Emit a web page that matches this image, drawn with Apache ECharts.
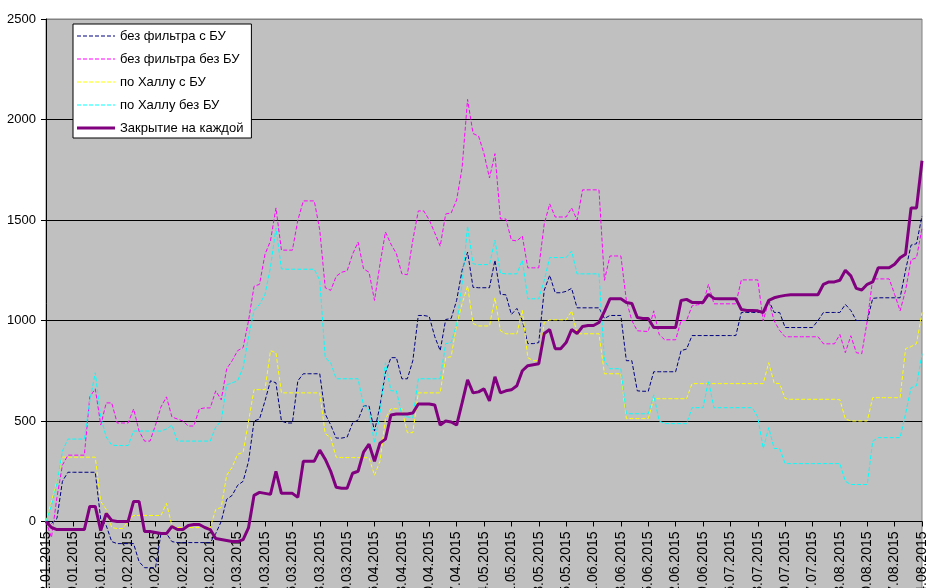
<!DOCTYPE html>
<html><head><meta charset="utf-8">
<script src="https://cdn.jsdelivr.net/npm/echarts@6/dist/echarts.min.js"></script>
<style>html,body{margin:0;padding:0;background:#fff;}#c{width:934px;height:588px;}</style>
</head><body><div id="c"></div>
<script>
// Series names
const seriesNames = ['без фильтра с БУ','без фильтра без БУ','по Халлу с БУ','по Халлу без БУ','Закрытие на каждой'];
// Trading days (weekdays) starting 12.01.2015, 161 points
const startDate = [2015, 0, 12];
const dayCount = 161;
const categories = [];
(function(){
  const d = new Date(Date.UTC(startDate[0], startDate[1], startDate[2]));
  while (categories.length < dayCount) {
    const wd = d.getUTCDay();
    if (wd !== 0 && wd !== 6) {
      const dd = String(d.getUTCDate()).padStart(2,'0');
      const mm = String(d.getUTCMonth()+1).padStart(2,'0');
      categories.push(dd + '.' + mm + '.' + d.getUTCFullYear());
    }
    d.setUTCDate(d.getUTCDate()+1);
  }
})();
const yTicks = [-500, 0, 500, 1000, 1500, 2000, 2500];

const noFilterBU = [0,-10,15,200,245,245,245,245,245,245,
10,-20,-100,-110,-110,-110,-110,-200,-230,-230,
-230,-60,-60,-100,-105,-105,-105,-105,-105,-105,
-105,-60,0,110,130,180,200,300,500,510,
600,700,690,500,490,490,700,735,735,735,
735,535,480,415,415,420,490,505,575,575,
450,575,740,815,815,710,710,800,1025,1025,
1020,920,850,1005,1010,1100,1250,1340,1165,1163,
1163,1163,1300,1130,1128,1030,1060,1000,885,885,
890,1150,1225,1138,1138,1145,1160,1063,1063,1063,
1063,1063,1010,1025,1025,1025,800,800,650,648,
648,745,745,745,745,745,850,858,925,925,
925,925,925,925,925,925,925,1040,1040,1040,
1040,1040,1100,1040,1040,965,965,965,965,965,
965,1000,1040,1040,1040,1040,1080,1050,1000,1000,
1000,1110,1113,1113,1113,1113,1113,1250,1375,1382,
1520];

const noFilterNoBU = [0,-80,120,280,330,330,330,330,620,660,
480,590,590,490,490,490,560,450,400,400,
480,570,620,520,510,500,475,475,560,565,
565,650,605,760,800,850,865,1000,1170,1180,
1330,1396,1560,1350,1350,1350,1500,1595,1595,1595,
1450,1163,1150,1220,1240,1247,1330,1390,1257,1240,
1100,1280,1440,1380,1332,1232,1228,1400,1545,1545,
1500,1436,1370,1530,1535,1600,1760,2100,1930,1918,
1830,1709,1830,1505,1505,1400,1396,1420,1262,1262,
1262,1480,1580,1515,1515,1515,1560,1500,1650,1650,
1650,1650,1200,1321,1321,1321,1100,1000,949,947,
945,1048,930,904,904,904,1000,1000,1073,1078,
1083,1180,1083,1083,1083,1083,1083,1202,1202,1202,
1202,998,1098,998,950,919,919,919,919,919,
919,919,884,884,884,930,840,924,840,835,
998,1207,1207,1207,1207,1130,1048,1150,1302,1312,
1460];

const hullBU = [0,100,200,320,320,320,320,320,320,320,
100,60,-30,-35,-35,0,30,30,30,30,
30,30,90,-20,-30,-30,-30,-30,-30,-30,
-30,60,70,230,270,335,343,500,656,656,
656,850,840,640,640,640,640,640,640,640,
640,437,417,320,318,318,318,318,318,318,
230,300,512,561,561,561,442,442,640,640,
640,640,640,815,820,980,1083,1172,985,973,
973,973,1113,949,934,934,934,1050,815,800,
800,990,1003,1003,1003,1003,1048,934,934,934,
934,934,735,735,735,735,512,512,512,512,
512,611,611,611,611,611,611,611,686,686,
686,686,686,686,686,686,686,686,686,686,
686,686,790,688,686,611,608,608,608,608,
608,608,608,608,608,606,510,500,500,500,
500,616,616,616,616,616,616,860,870,885,
1040];

const hullNoBU = [0,80,190,350,410,410,410,410,600,740,
520,420,380,378,378,378,450,450,450,450,
450,450,460,480,400,400,400,400,400,400,
400,470,500,680,690,700,765,920,1050,1080,
1130,1265,1460,1257,1255,1255,1255,1255,1255,1255,
1200,815,790,710,710,710,710,710,578,555,
390,536,790,650,650,530,520,517,710,710,
710,710,710,885,890,980,1182,1470,1282,1278,
1278,1278,1400,1235,1232,1232,1232,1300,1108,1108,
1108,1200,1313,1313,1313,1313,1346,1232,1232,1232,
1232,1232,800,760,760,760,536,536,536,536,
536,630,500,487,487,487,487,487,566,566,
566,700,566,566,566,566,566,566,566,566,
520,363,467,363,363,288,288,288,288,288,
288,288,288,288,288,288,200,184,184,184,
184,400,417,417,417,417,417,536,666,675,
835];

const closeEach = [0,-30,-40,-40,-40,-40,-40,-40,75,75,
-45,40,5,0,0,0,100,100,-50,-50,
-55,-60,-60,-25,-40,-40,-20,-15,-15,-30,
-40,-85,-90,-95,-100,-100,-90,-30,130,145,
140,135,250,140,140,140,120,300,300,300,
355,310,250,170,165,165,240,250,345,385,
300,390,410,530,535,535,535,540,585,585,
585,580,480,500,495,480,590,705,640,645,
660,600,720,640,650,655,675,750,775,780,
785,935,955,860,860,890,955,935,970,975,
975,990,1045,1108,1108,1108,1090,1085,1015,1010,
1010,965,965,965,965,965,1100,1105,1090,1090,
1090,1130,1110,1108,1108,1108,1108,1055,1050,1050,
1048,1040,1100,1113,1120,1125,1128,1128,1128,1128,
1128,1128,1180,1192,1192,1200,1250,1222,1160,1152,
1180,1192,1262,1262,1262,1280,1312,1330,1560,1560,
1795];

const FONT = 'Arial, "Liberation Sans", sans-serif';
const dashed = [4, 2];

// Plot geometry
const GRID_TOP = 19, GRID_H = 603;
const yMin = yTicks[0], yMax = yTicks[yTicks.length - 1];
// the category axis crosses the value axis at 0
const xAxisOffset = -GRID_H * (0 - yMin) / (yMax - yMin);

// Legend icon paths: a horizontal (dashed or solid) line inside a 38x14 box
function legendLinePath(isDashed, thick) {
  const W = 38, H = 14, y0 = H / 2 - thick / 2, y1 = H / 2 + thick / 2;
  let p = 'path://M0,0L0,0ZM' + W + ',' + H + 'L' + W + ',' + H + 'Z';
  if (isDashed) {
    for (let x = 0; x < W; x += 6) {
      const x2 = Math.min(x + 4, W);
      p += 'M' + x + ',' + y0 + 'L' + x2 + ',' + y0 + 'L' + x2 + ',' + y1 + 'L' + x + ',' + y1 + 'Z';
    }
  } else {
    p += 'M0,' + y0 + 'L' + W + ',' + y0 + 'L' + W + ',' + y1 + 'L0,' + y1 + 'Z';
  }
  return p;
}

function dashSeries(name, data, color) {
  return { name, type: 'line', data, symbol: 'none', showSymbol: false, smooth: false,
    lineStyle: { color, width: 1, type: dashed }, itemStyle: { color }, z: 3 };
}
const chart = echarts.init(document.getElementById('c'), null, { renderer: 'canvas' });
chart.setOption({
  animation: false,
  backgroundColor: '#ffffff',
  textStyle: { fontFamily: FONT },
  grid: { left: 46, right: 12, top: GRID_TOP, height: GRID_H, outerBoundsMode: 'none', containLabel: false,
    show: true, backgroundColor: '#c0c0c0', borderColor: '#808080', borderWidth: 1 },
  legend: {
    orient: 'vertical', left: 73, top: 24,
    itemWidth: 38, itemHeight: 14, itemGap: 9,
    padding: [5, 8, 3, 4],
    backgroundColor: '#ffffff', borderColor: '#000000', borderWidth: 1, borderRadius: 0,
    textStyle: { fontSize: 13, color: '#000', fontFamily: FONT },
    data: seriesNames.map((n, k) => ({ name: n, icon: legendLinePath(k < 4, k < 4 ? 1 : 3) }))
  },
  xAxis: {
    type: 'category', data: categories, boundaryGap: false, position: 'bottom',
    offset: xAxisOffset,
    axisLine: { onZero: false, lineStyle: { color: '#000', width: 1 } },
    axisTick: { show: true, interval: 4, length: 5, lineStyle: { color: '#000' } },
    axisLabel: { interval: 4, rotate: 90, margin: 10, fontSize: 14, color: '#000', fontFamily: FONT },
    splitLine: { show: false }
  },
  yAxis: {
    type: 'value', min: yMin, max: yMax, interval: 500,
    axisLine: { show: true, onZero: false, lineStyle: { color: '#000', width: 1 } },
    axisTick: { show: true, length: 5, lineStyle: { color: '#000' } },
    axisLabel: { fontSize: 13, color: '#000', margin: 10, fontFamily: FONT, formatter: v => String(v) },
    splitLine: { show: true, lineStyle: { color: ['#000','#000','#000','#000','#000','#000','#808080'], width: 1 } }
  },
  series: [
    dashSeries(seriesNames[0], noFilterBU, '#000080'),
    dashSeries(seriesNames[1], noFilterNoBU, '#ff00ff'),
    dashSeries(seriesNames[2], hullBU, '#ffff00'),
    dashSeries(seriesNames[3], hullNoBU, '#00ffff'),
    { name: seriesNames[4], type: 'line', data: closeEach, symbol: 'none', showSymbol: false,
      lineStyle: { color: '#800080', width: 3 }, itemStyle: { color: '#800080' }, z: 4 }
  ]
});
</script></body></html>
